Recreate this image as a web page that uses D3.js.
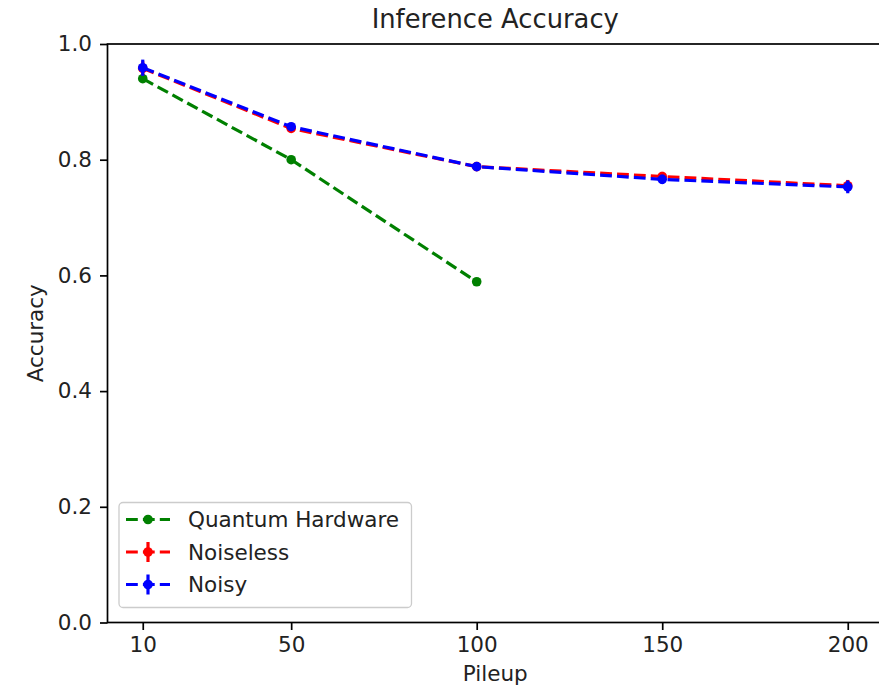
<!DOCTYPE html>
<html>
<head>
<meta charset="utf-8">
<script src="https://cdn.jsdelivr.net/npm/d3@7"></script>
<style>
  html, body { margin: 0; padding: 0; background: #fff; }
  svg { display: block; font-family: "DejaVu Sans", sans-serif; }
</style>
</head>
<body>
<svg id="chart" width="879" height="687"></svg>
<script>
// ---- data ----
const pileup = [10, 50, 100, 150, 200];
const hwPileup = [10, 50, 100];
const quantumHardware = [0.940, 0.800, 0.589];
const noiseless = [0.958, 0.854, 0.788, 0.771, 0.755];
const noiselessErr = [0.012, 0.004, 0.004, 0.008, 0.010];
const noisy = [0.959, 0.857, 0.788, 0.766, 0.753];
const noisyErr = [0.014, 0.004, 0.004, 0.008, 0.011];
const xTicks = [10, 50, 100, 150, 200];
const yTicks = [0.0, 0.2, 0.4, 0.6, 0.8, 1.0];
const seriesNames = ["Quantum Hardware", "Noiseless", "Noisy"];
const seriesColors = ["green", "red", "blue"];

(function () {
// ---- layout ----
const svg = d3.select("#chart");
const pL = 107.5, pR = 883, pT = 44, pB = 622.5;
const x = d3.scaleLinear().domain([0.5, 209.5]).range([pL, pR]);
const y = d3.scaleLinear().domain([0, 1]).range([pB, pT]);
const fs = 21.5;
const lw = 3.2;
const dash = "11.8,5.1";

// axes
const xAxis = d3.axisBottom(x).tickValues(xTicks).tickSize(7.5).tickPadding(7).tickFormat(d3.format("d"));
const yAxis = d3.axisLeft(y).tickValues(yTicks).tickSize(7.5).tickPadding(8).tickFormat(d3.format(".1f"));

const gx = svg.append("g").attr("transform", `translate(0,${pB})`).call(xAxis);
const gy = svg.append("g").attr("transform", `translate(${pL},0)`).call(yAxis);
[gx, gy].forEach(g => {
  g.select(".domain").remove();
  g.selectAll(".tick line").attr("stroke", "#000").attr("stroke-width", 1.7);
  g.selectAll(".tick text").attr("fill", "#222").attr("font-size", fs)
    .attr("font-family", "DejaVu Sans, sans-serif");
});

// spines
svg.append("rect").attr("x", pL).attr("y", pT)
  .attr("width", pR - pL).attr("height", pB - pT)
  .attr("fill", "none").attr("stroke", "#000").attr("stroke-width", 1.7);

// series drawing
const line = d3.line().x(d => x(d[0])).y(d => y(d[1]));

function drawSeries(xs, ys, errs, color) {
  const g = svg.append("g");
  const pts = xs.map((v, i) => [v, ys[i]]);
  if (errs) {
    g.selectAll("line.err").data(pts).enter().append("line")
      .attr("x1", d => x(d[0])).attr("x2", d => x(d[0]))
      .attr("y1", (d, i) => y(d[1] - errs[i])).attr("y2", (d, i) => y(d[1] + errs[i]))
      .attr("stroke", color).attr("stroke-width", lw);
  }
  g.append("path").datum(pts).attr("d", line)
    .attr("fill", "none").attr("stroke", color).attr("stroke-width", lw)
    .attr("stroke-dasharray", dash);
  g.selectAll("circle").data(pts).enter().append("circle")
    .attr("cx", d => x(d[0])).attr("cy", d => y(d[1])).attr("r", 4.8)
    .attr("fill", color);
}

drawSeries(hwPileup, quantumHardware, null, seriesColors[0]);
drawSeries(pileup, noiseless, noiselessErr, seriesColors[1]);
drawSeries(pileup, noisy, noisyErr, seriesColors[2]);

// title and labels
svg.append("text").attr("x", (pL + pR) / 2).attr("y", 28)
  .attr("text-anchor", "middle").attr("font-size", 25.8).attr("fill", "#222")
  .text("Inference Accuracy");
svg.append("text").attr("x", (pL + pR) / 2).attr("y", 681)
  .attr("text-anchor", "middle").attr("font-size", fs).attr("fill", "#222")
  .text("Pileup");
svg.append("text")
  .attr("transform", `translate(43,${(pT + pB) / 2}) rotate(-90)`)
  .attr("text-anchor", "middle").attr("font-size", fs).attr("fill", "#222")
  .text("Accuracy");

// legend
const lg = svg.append("g");
lg.append("rect").attr("x", 119).attr("y", 502.5).attr("width", 292.5).attr("height", 105)
  .attr("rx", 4).attr("fill", "#fff").attr("fill-opacity", 0.8)
  .attr("stroke", "#cccccc").attr("stroke-width", 1.3);
const rowsY = [519.5, 552, 584.5];
seriesNames.forEach((name, i) => {
  const ry = rowsY[i];
  const c = seriesColors[i];
  lg.append("line").attr("x1", 126).attr("x2", 170).attr("y1", ry).attr("y2", ry)
    .attr("stroke", c).attr("stroke-width", lw).attr("stroke-dasharray", dash);
  if (i > 0) {
    lg.append("line").attr("x1", 148).attr("x2", 148).attr("y1", ry - 10).attr("y2", ry + 10)
      .attr("stroke", c).attr("stroke-width", lw);
  }
  lg.append("circle").attr("cx", 148).attr("cy", ry).attr("r", 4.8).attr("fill", c);
  lg.append("text").attr("x", 188).attr("y", ry).attr("dy", "0.36em")
    .attr("font-size", fs).attr("fill", "#222").text(name);
});
})();
</script>
</body>
</html>
